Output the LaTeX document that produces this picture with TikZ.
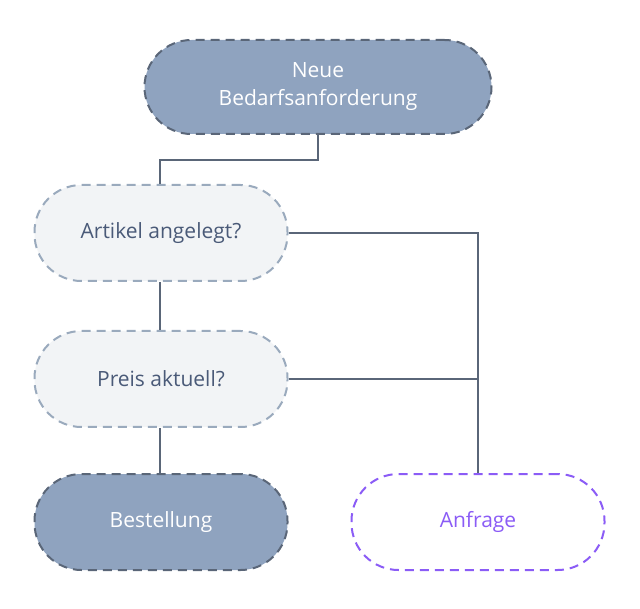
\documentclass[tikz,border=0pt]{standalone}
\usepackage{fontspec}
\setmainfont{Open Sans}
\begin{document}
\begin{tikzpicture}[x=1pt,y=-1pt,
  box/.style={rounded corners=47pt,minimum width=253pt,minimum height=96pt,dashed,dash pattern=on 9pt off 6pt,line width=2pt,align=center,font=\fontsize{21}{28}\selectfont},
  dark/.style={box,fill=boxdark,draw=linedark,text=white},
  light/.style={box,fill=boxlight,draw=borderlight,text=textdark},
  purp/.style={box,fill=white,draw=purple1,text=purple1},
  conn/.style={draw=linedark,line width=2.5pt}]
\definecolor{boxdark}{HTML}{8FA3BF}
\definecolor{linedark}{HTML}{5A6678}
\definecolor{boxlight}{HTML}{F2F4F6}
\definecolor{borderlight}{HTML}{9AAABD}
\definecolor{textdark}{HTML}{4A5A78}
\definecolor{purple1}{HTML}{8B5CF6}
\useasboundingbox (0,0) rectangle (640,609);
\node[dark,minimum width=347pt,minimum height=94pt] (top) at (318,87) {Neue\\Bedarfsanforderung};
\node[light] (art) at (161,233) {Artikel angelegt?};
\node[light] (preis) at (161,379) {Preis aktuell?};
\node[dark] (best) at (161,522) {Bestellung};
\node[purp] (anf) at (478,522) {Anfrage};
\draw[conn] (top.south) -- (318,160) -- (160,160) -- (art.north -| 160,0);
\draw[conn] (art.south -| 160,0) -- (preis.north -| 160,0);
\draw[conn] (preis.south -| 160,0) -- (best.north -| 160,0);
\draw[conn] (art.east) -- (anf.north |- art.east) -- (anf.north);
\draw[conn] (preis.east) -- (anf.north |- preis.east);
\end{tikzpicture}
\end{document}
